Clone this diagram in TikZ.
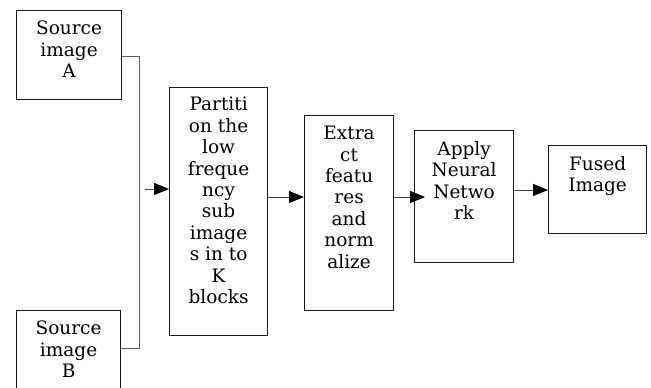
\documentclass[tikz,border=0pt]{standalone}
\usepackage{fontspec}
\setmainfont{DejaVu Serif}
\usetikzlibrary{arrows.meta}
\begin{document}
\begin{tikzpicture}[x=1pt,y=-1pt,
  blk/.style={draw=black!90, line width=1.2pt, inner sep=0pt, anchor=north west},
  txt/.style={align=center, inner sep=0pt, anchor=north, text=black,
    font=\fontsize{18.5}{21.4}\selectfont},
  wire/.style={draw=black!65, line width=1pt},
  arr/.style={wire, draw=black!75, -{Triangle[length=15pt,width=12pt,color=black]}}]
\useasboundingbox (0,0) rectangle (651,388);
\clip (0,0) rectangle (651,388);
% processing blocks
\node[blk, minimum width=105, minimum height=89]  (srcA)  at (16,10)  {};
\node[blk, minimum width=104, minimum height=100] (srcB)  at (16,310) {};
\node[blk, minimum width=98,  minimum height=248] (part)  at (169,87) {};
\node[blk, minimum width=89,  minimum height=195] (feat)  at (304,115) {};
\node[blk, minimum width=99,  minimum height=132] (nn)    at (414,130) {};
\node[blk, minimum width=98,  minimum height=88]  (fused) at (548,145) {};
% block captions, set from the top of each block
\node[txt] (tA) at ([yshift=-11pt]srcA.north)  {Source\\image\\A};
\node[txt] (tB) at ([yshift=-11pt]srcB.north)  {Source\\image\\B};
\node[txt] (tP) at ([yshift=-10pt]part.north)  {Partiti\\on the\\low\\freque\\ncy\\sub\\image\\s in to\\K\\blocks};
\node[txt] (tF) at ([yshift=-11pt]feat.north)  {Extra\\ct\\featu\\res\\and\\norm\\alize};
\node[txt] (tN) at ([yshift=-11pt]nn.north)    {Apply\\Neural\\Netwo\\rk};
\node[txt] (tU) at ([yshift=-11pt]fused.north) {Fused\\Image};
% joining the two sources
\coordinate (jA) at (139,56);
\coordinate (jB) at (139,348);
\coordinate (in1) at (145,189);
\draw[wire] (srcA.east |- jA) -- (jA) -- (jB) -- (srcB.east |- jB);
% flow arrows
\draw[arr] (in1) -- (in1 -| part.west);
\draw[arr] (part.east |- 0,197) -- (feat.west |- 0,197);
\draw[arr, shorten >=-11pt] (feat.east |- 0,197) -- (nn.west |- 0,197);
\draw[arr] (nn.east |- 0,190) -- (fused.west |- 0,190);
\end{tikzpicture}
\end{document}
